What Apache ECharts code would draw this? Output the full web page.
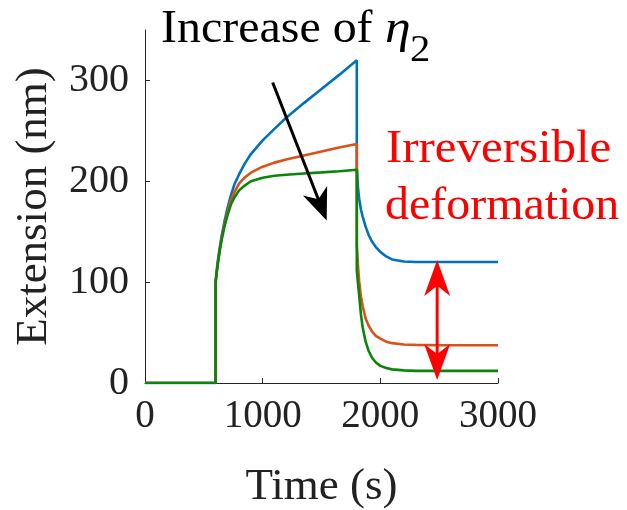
<!DOCTYPE html>
<html>
<head>
<meta charset="utf-8">
<script src="https://cdn.jsdelivr.net/npm/echarts@6/dist/echarts.min.js"></script>
<style>
  html, body { margin: 0; padding: 0; background: #fff; }
  #chart { width: 627px; height: 510px; }
</style>
</head>
<body>
<div id="chart"></div>
<script>
// time (s) shared by the three curves
var time = [0, 600, 600, 605, 610, 620, 635, 650, 675, 700, 730, 760, 800, 850, 900, 1000, 1100, 1200, 1350, 1500, 1650, 1800,
            1800, 1810, 1820, 1835, 1850, 1875, 1900, 1930, 1960, 2000, 2050, 2100, 2200, 2300, 2500, 3000];
// extension (nm)
var blue = [0, 0, 100, 106, 112, 122, 134, 145, 160, 173, 186, 197, 207, 218, 227, 240.5, 252, 263, 277.5, 291.5, 305.5, 320,
            215, 194, 183, 172, 165, 155, 147, 140, 135, 130, 125.5, 122.5, 120.5, 120, 120, 120];
var orange = [0, 0, 100, 105, 110, 120, 132, 143, 157, 169, 181, 189, 198, 204, 208.5, 214.5, 218.5, 221.5, 225.5, 229.5, 233.5, 237,
              137, 117, 101, 86, 76, 64, 57, 51, 47, 44, 41, 39.5, 38.2, 37.8, 37.5, 37.5];
var green = [0, 0, 100, 105, 110, 119, 131, 141, 155, 166, 177, 184, 191, 196, 200, 203.5, 205.5, 206.5, 207.7, 208.8, 210, 211.5,
             112, 99, 87, 68, 55, 41, 32, 25, 20.5, 17, 14.8, 13.5, 12.5, 12, 12, 12];

var xTicks = [0, 1000, 2000, 3000];
var yTicks = [0, 100, 200, 300];

// annotation arrows in data units: [x1, y1, x2, y2, headAtStart, headAtEnd]
var etaArrow = [[1085, 298, 1544, 161, 0, 1]];
var irrevArrow = [[2483, 122, 2483, 3, 1, 1]];

var FONT = '"Liberation Serif", "Times New Roman", serif';
var AXIS = '#262626';

function pairs(vals) {
  return time.map(function (t, i) { return [t, vals[i]]; });
}

function curve(name, vals, color) {
  return {
    name: name,
    type: 'line',
    data: pairs(vals),
    showSymbol: false,
    symbol: 'none',
    lineStyle: { color: color, width: 2.6 },
    itemStyle: { color: color },
    z: 3
  };
}

// arrow drawn as a line with notched heads, tip exactly on the end point
function arrowSeries(rows, color, headLen, headHalf) {
  return {
    type: 'custom',
    data: rows,
    z: 5,
    silent: true,
    renderItem: function (params, api) {
      var a = api.coord([api.value(0), api.value(1)]);
      var b = api.coord([api.value(2), api.value(3)]);
      var dx = b[0] - a[0], dy = b[1] - a[1];
      var len = Math.sqrt(dx * dx + dy * dy);
      var ux = dx / len, uy = dy / len, nx = -uy, ny = ux;
      var kids = [];
      function head(t, sx, sy) {
        return {
          type: 'polygon',
          shape: { points: [
            [t[0], t[1]],
            [t[0] - sx * headLen + nx * headHalf, t[1] - sy * headLen + ny * headHalf],
            [t[0] - sx * headLen * 0.72, t[1] - sy * headLen * 0.72],
            [t[0] - sx * headLen - nx * headHalf, t[1] - sy * headLen - ny * headHalf]
          ] },
          style: { fill: color }
        };
      }
      var s = a.slice(), e = b.slice();
      if (api.value(4)) { s = [a[0] + ux * headLen * 0.6, a[1] + uy * headLen * 0.6]; kids.push(head(a, -ux, -uy)); }
      if (api.value(5)) { e = [b[0] - ux * headLen * 0.6, b[1] - uy * headLen * 0.6]; kids.push(head(b, ux, uy)); }
      kids.unshift({
        type: 'line',
        shape: { x1: s[0], y1: s[1], x2: e[0], y2: e[1] },
        style: { stroke: color, lineWidth: 3 }
      });
      return { type: 'group', children: kids };
    }
  };
}

var chart = echarts.init(document.getElementById('chart'), null, { renderer: 'canvas' });

chart.setOption({
  animation: false,
  backgroundColor: '#fff',
  grid: { left: 145, right: 129, top: 30, bottom: 127, outerBoundsMode: 'none' },
  xAxis: {
    type: 'value', min: 0, max: 3000, interval: 1000,
    name: 'Time (s)', nameLocation: 'middle', nameGap: 82,
    nameTextStyle: { fontFamily: FONT, fontSize: 45, color: '#222' },
    axisLine: { show: true, lineStyle: { color: AXIS, width: 1 } },
    axisTick: { show: true, inside: true, length: 5, lineStyle: { color: AXIS }, customValues: xTicks },
    axisLabel: {
      fontFamily: FONT, fontSize: 39, color: '#222', margin: 14, customValues: xTicks,
      formatter: function (v) { return String(v); }
    },
    splitLine: { show: false }
  },
  yAxis: {
    type: 'value', min: 0, max: 350, interval: 100,
    name: 'Extension (nm)', nameLocation: 'middle', nameGap: 88,
    nameTextStyle: { fontFamily: FONT, fontSize: 45, color: '#222' },
    axisLine: { show: true, lineStyle: { color: AXIS, width: 1 } },
    axisTick: { show: true, inside: true, length: 5, lineStyle: { color: AXIS }, customValues: yTicks },
    axisLabel: {
      fontFamily: FONT, fontSize: 40, color: '#222', margin: 16, customValues: yTicks,
      formatter: function (v) { return String(v); }
    },
    splitLine: { show: false }
  },
  series: [
    curve('blue', blue, '#0072BD'),
    curve('orange', orange, '#D95319'),
    curve('green', green, '#0A850A'),
    arrowSeries(etaArrow, '#000000', 32, 13),
    arrowSeries(irrevArrow, '#FF0000', 36, 13)
  ],
  graphic: [
    { type: 'text', x: 161, y: 6, scaleX: 1.02, style: { text: 'Increase of', font: '47px ' + FONT, fill: '#000' } },
    { type: 'text', x: 385, y: 6, scaleX: 1.1, style: { text: 'η', font: 'italic 47px ' + FONT, fill: '#000' } },
    { type: 'text', x: 410, y: 33, scaleX: 1.1, style: { text: '2', font: '37px ' + FONT, fill: '#000' } },
    { type: 'text', x: 386, y: 126, scaleX: 1.04, style: { text: 'Irreversible', font: '47px ' + FONT, fill: '#FF0000' } },
    { type: 'text', x: 385, y: 183, scaleX: 1.02, style: { text: 'deformation', font: '47px ' + FONT, fill: '#FF0000' } }
  ]
});
</script>
</body>
</html>
